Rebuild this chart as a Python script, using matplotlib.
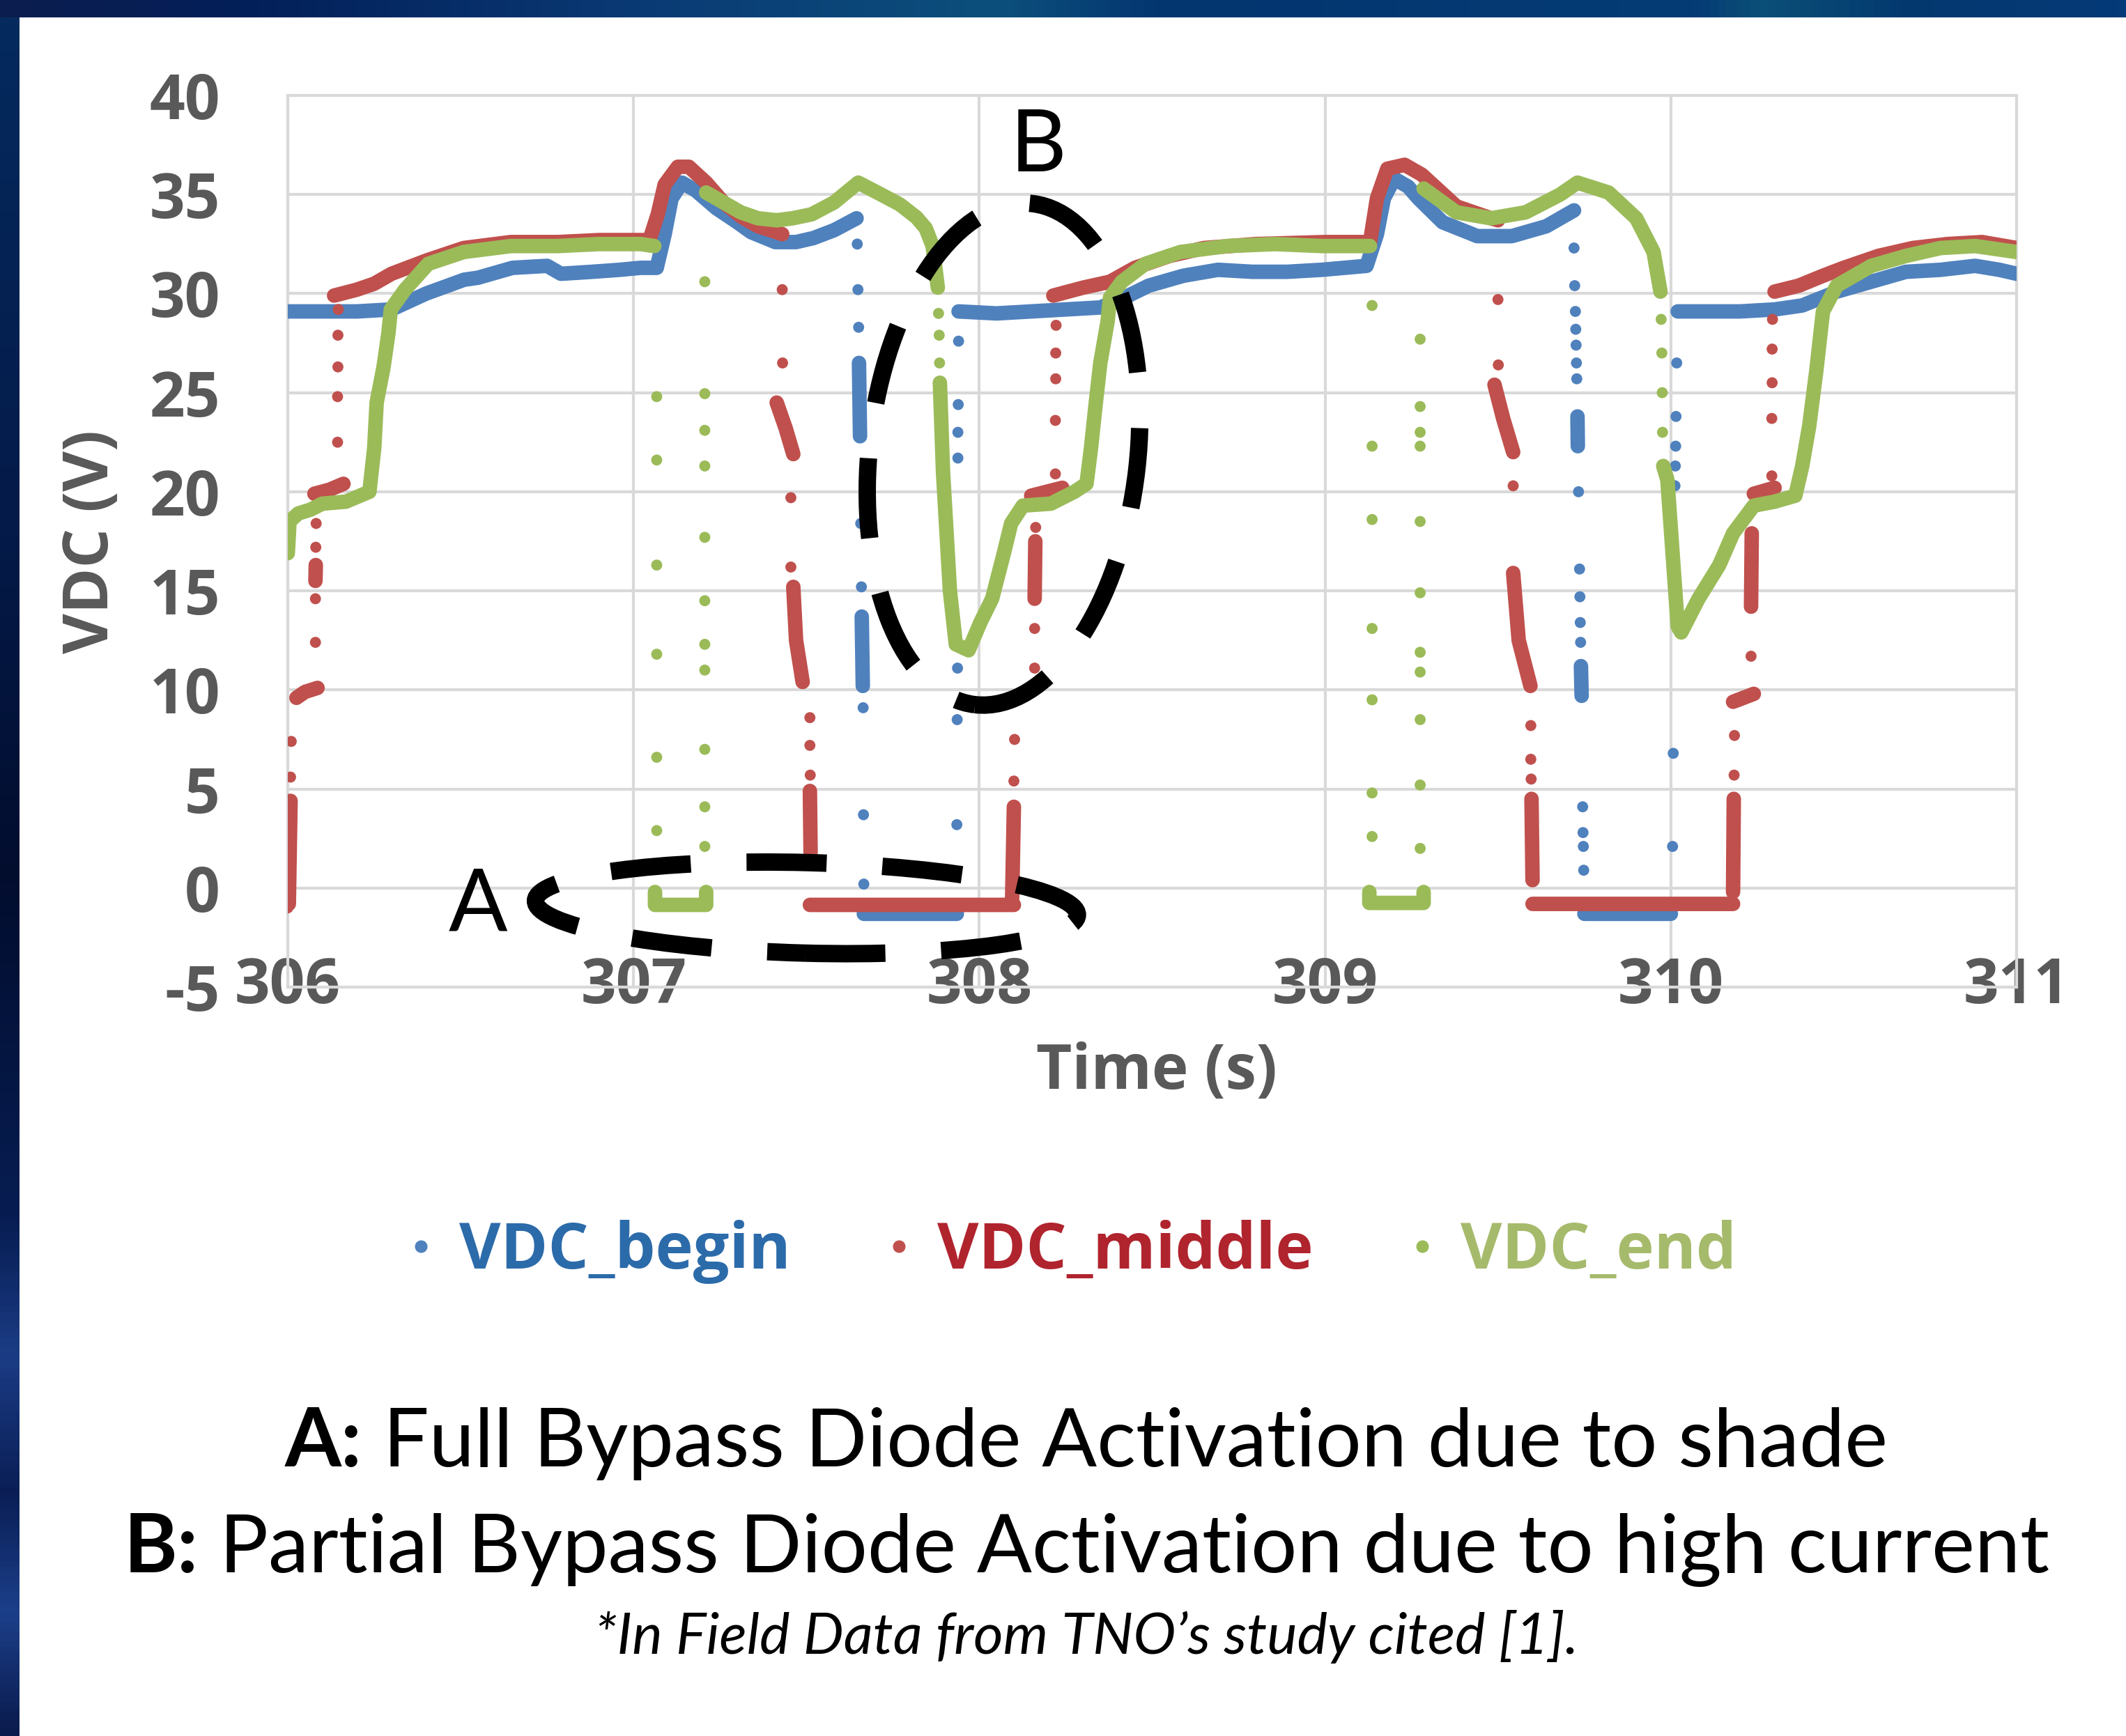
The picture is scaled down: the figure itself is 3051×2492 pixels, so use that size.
import numpy as np
import matplotlib.pyplot as plt
from matplotlib.colors import LinearSegmentedColormap
from matplotlib.lines import Line2D
from matplotlib.patches import Ellipse
from matplotlib.transforms import IdentityTransform

nan = np.nan

# ---- values (time in s, voltage in V) ----
# continuous runs of samples (nan = break between runs)
begin_t = [306.00, 306.10, 306.20, 306.30, 306.40, 306.51, 306.55, 306.65, 306.75, 306.79, 306.88, 306.96,
           307.02, 307.067, 307.09, 307.11, 307.14, 307.18, 307.24, 307.30, 307.34, 307.41, 307.47, 307.52,
           307.58, 307.645, nan,
           307.652, 307.655, nan, 307.660, 307.663, nan,
           307.666, 307.80, 307.935, nan,
           307.94, 308.05, 308.15, 308.25, 308.35, 308.42, 308.49, 308.59, 308.69, 308.79, 308.89, 308.99,
           309.12, 309.15, 309.17, 309.20, 309.24, 309.27, 309.34, 309.44, 309.54, 309.64, 309.72, nan,
           309.730, 309.731, nan, 309.740, 309.742, nan,
           309.75, 309.88, 310.00, nan,
           310.02, 310.10, 310.20, 310.30, 310.38, 310.48, 310.58, 310.68, 310.78, 310.88, 310.95, 311.0]
begin_v = [29.1, 29.1, 29.1, 29.2, 30.0, 30.7, 30.8, 31.3, 31.4, 31.0, 31.1, 31.2,
           31.3, 31.3, 33.0, 34.8, 35.6, 35.2, 34.3, 33.6, 33.1, 32.6, 32.6, 32.8,
           33.2, 33.8, nan,
           26.5, 22.8, nan, 13.7, 10.2, nan,
           -1.3, -1.3, -1.3, nan,
           29.1, 29.0, 29.1, 29.2, 29.3, 29.8, 30.4, 30.9, 31.2, 31.1, 31.1, 31.2,
           31.4, 33.0, 34.8, 35.8, 35.4, 34.8, 33.6, 32.9, 32.9, 33.4, 34.2, nan,
           23.8, 22.3, nan, 11.2, 9.7, nan,
           -1.3, -1.3, -1.3, nan,
           29.1, 29.1, 29.1, 29.2, 29.4, 30.1, 30.6, 31.1, 31.2, 31.4, 31.2, 31.0]
# isolated samples during the fast transitions
begin_dot_t = [307.647, 307.649, 307.651, 307.657, 307.659, 307.664, 307.665, 307.666,
               307.935, 307.936, 307.937, 307.938, 307.938, 307.939, 307.940,
               309.720, 309.722, 309.724, 309.725, 309.726, 309.727, 309.728, 309.733,
               309.736, 309.737, 309.738, 309.739, 309.745, 309.746, 309.747, 309.748,
               310.005, 310.007, 310.012, 310.013, 310.014, 310.015, 310.017]
begin_dot_v = [32.5, 30.2, 28.3, 18.4, 15.2, 9.1, 3.7, 0.2,
               3.2, 8.5, 11.1, 21.7, 23.0, 24.4, 27.6,
               32.3, 30.4, 29.1, 28.2, 27.4, 26.5, 25.7, 20.0,
               16.1, 14.7, 13.4, 12.4, 4.1, 2.8, 2.1, 0.9,
               2.1, 6.8, 20.3, 21.3, 22.3, 23.8, 26.5]

middle_t = [306.003, 306.008, nan, 306.025, 306.05, 306.086, nan, 306.080, 306.081, nan,
            306.077, 306.12, 306.161, nan,
            306.134, 306.20, 306.25, 306.30, 306.406, 306.509, 306.645, 306.781, 306.90, 307.02,
            307.046, 307.07, 307.09, 307.128, 307.16, 307.21, 307.26, 307.31, 307.36, 307.414, 307.43, nan,
            307.414, 307.44, 307.462, nan, 307.462, 307.47, 307.489, nan, 307.51, 307.512, nan,
            307.51, 307.80, 308.10, nan,
            308.095, 308.10, nan, 308.09, 308.14, nan, 308.16, 308.162, nan, 308.15, 308.24, nan,
            308.214, 308.30, 308.378, 308.45, 308.55, 308.65, 308.80, 309.00, 309.13, 309.15,
            309.18, 309.23, 309.28, 309.38, 309.48, 309.50, nan,
            309.49, 309.515, 309.544, nan, 309.544, 309.56, 309.594, nan, 309.597, 309.60, nan,
            309.60, 309.90, 310.18, nan,
            310.18, 310.182, nan, 310.18, 310.24, nan, 310.232, 310.234, nan, 310.24, 310.30, nan,
            310.30, 310.37, 310.44, 310.50, 310.60, 310.70, 310.80, 310.90, 311.0]
middle_v = [-0.8, 4.4, nan, 9.6, 9.9, 10.1, nan, 15.5, 16.3, nan,
            19.9, 20.1, 20.4, nan,
            29.9, 30.2, 30.5, 31.0, 31.7, 32.3, 32.6, 32.6, 32.7, 32.7,
            32.7, 34.0, 35.5, 36.4, 36.4, 35.6, 34.6, 33.9, 33.4, 33.1, 33.0, nan,
            24.5, 23.2, 21.9, nan, 15.2, 12.5, 10.4, nan, 4.9, 1.8, nan,
            -0.85, -0.85, -0.85, nan,
            -0.5, 4.1, nan, 9.5, 9.9, nan, 14.6, 17.5, nan, 19.8, 20.2, nan,
            29.9, 30.3, 30.6, 31.3, 31.9, 32.3, 32.5, 32.6, 32.6, 34.8,
            36.3, 36.5, 36.0, 34.4, 33.8, 33.7, nan,
            25.4, 23.7, 22.0, nan, 15.9, 12.5, 10.2, nan, 4.5, 0.4, nan,
            -0.8, -0.8, -0.8, nan,
            -0.2, 4.5, nan, 9.4, 9.8, nan, 14.2, 17.9, nan, 19.9, 20.2, nan,
            30.1, 30.4, 30.9, 31.3, 31.9, 32.3, 32.5, 32.6, 32.3]
middle_dot_t = [306.000, 306.008, 306.010, 306.080, 306.080, 306.081, 306.082,
                306.144, 306.144, 306.145, 306.145, 306.146,
                307.430, 307.431, 307.455, 307.455, 307.510, 307.510, 307.511,
                308.100, 308.102, 308.160, 308.160, 308.163,
                308.220, 308.220, 308.221, 308.221, 308.222,
                309.500, 309.501, 309.544, 309.595, 309.595, 309.596,
                310.183, 310.184, 310.232, 310.235,
                310.292, 310.292, 310.293, 310.293, 310.294]
middle_dot_v = [-1.0, 5.6, 7.4, 12.4, 14.6, 17.2, 18.4,
                22.5, 24.8, 26.3, 27.9, 29.2,
                30.2, 26.5, 19.7, 16.2, 8.6, 7.2, 5.7,
                5.4, 7.5, 11.1, 13.1, 18.2,
                20.9, 23.6, 25.7, 27.0, 28.4,
                29.7, 26.4, 20.3, 8.2, 6.5, 5.5,
                5.7, 7.7, 11.7, 19.3,
                20.8, 23.7, 25.5, 27.2, 28.7]

end_t = [306.00, 306.005, 306.03, 306.066, 306.10, 306.168, 306.236, 306.25, 306.257, 306.277,
         306.291, 306.298, 306.339, 306.406, 306.509, 306.645, 306.781, 306.90, 307.02, 307.06, nan,
         307.062, 307.062, 307.21, 307.21, nan,
         307.21, 307.26, 307.31, 307.36, 307.414, 307.46, 307.515, 307.58, 307.65, 307.716,
         307.77, 307.818, 307.845, 307.865, 307.88, nan,
         307.886, 307.895, 307.905, 307.915, 307.932, 307.969, 308.003, 308.037, 308.071, 308.092,
         308.126, 308.207, 308.275, 308.31, 308.323, 308.337, 308.35, 308.371, 308.378, 308.412,
         308.48, 308.582, 308.718, 308.855, 308.991, 309.13, nan,
         309.128, 309.128, 309.285, 309.285, nan,
         309.285, 309.38, 309.48, 309.58, 309.68, 309.73, 309.82, 309.90, 309.95, 309.97, nan,
         309.978, 309.99, 310.02, 310.03, 310.08, 310.14, 310.18, 310.24, 310.30, 310.36,
         310.38, 310.40, 310.42, 310.44, 310.48, 310.58, 310.68, 310.78, 310.88, 311.0]
end_v = [16.9, 18.5, 18.9, 19.1, 19.4, 19.5, 20.0, 22.2, 24.5, 26.3,
         28.0, 29.2, 30.2, 31.5, 32.1, 32.4, 32.4, 32.5, 32.5, 32.4, nan,
         -0.2, -0.85, -0.85, -0.2, nan,
         35.1, 34.6, 34.1, 33.8, 33.7, 33.8, 34.0, 34.6, 35.6, 35.0,
         34.5, 33.85, 33.3, 32.4, 30.3, nan,
         25.5, 21.0, 18.0, 15.0, 12.3, 12.0, 13.4, 14.6, 16.9, 18.4,
         19.3, 19.4, 20.0, 20.4, 22.2, 24.5, 26.5, 28.6, 29.8, 30.6,
         31.5, 32.1, 32.4, 32.5, 32.4, 32.4, nan,
         -0.2, -0.75, -0.75, -0.2, nan,
         35.3, 34.1, 33.8, 34.1, 35.0, 35.6, 35.1, 33.8, 32.1, 30.1, nan,
         21.3, 20.6, 13.2, 12.9, 14.6, 16.3, 17.9, 19.3, 19.5, 19.8,
         21.3, 23.3, 26.0, 29.1, 30.4, 31.4, 31.9, 32.3, 32.4, 32.1]
end_dot_t = [307.067] * 6 + [307.206] * 11 + [307.882, 307.884, 307.885] + \
            [309.136] * 7 + [309.275] * 11 + [309.972, 309.974, 309.975, 309.976]
end_dot_v = [24.8, 21.6, 16.3, 11.8, 6.6, 2.9,
             30.6, 24.95, 23.1, 21.3, 17.7, 14.5, 12.3, 11.0, 7.0, 4.1, 2.1,
             29.0, 27.9, 26.5,
             29.4, 22.3, 18.6, 13.1, 9.5, 4.8, 2.6,
             27.7, 24.3, 23.0, 22.3, 18.5, 14.9, 11.9, 10.9, 8.5, 5.2, 2.0,
             28.7, 27.0, 25.0, 23.0]

series_names = ['VDC_begin', 'VDC_middle', 'VDC_end']
series_colors = ['#4F81BD', '#C0504D', '#9BBB59']
legend_text_colors = ['#2C6BAA', '#B0242E', '#A6BA6C']

x_ticks = [306, 307, 308, 309, 310, 311]
y_ticks = [-5, 0, 5, 10, 15, 20, 25, 30, 35, 40]

W, H, DPI = 3051, 2492, 100
GREY = '#595959'
plt.rcParams['font.family'] = ['Open Sans', 'DejaVu Sans']
plt.rcParams['axes.unicode_minus'] = False

fig = plt.figure(figsize=(W / DPI, H / DPI), dpi=DPI, facecolor='white')

# slide frame: dark blue band on top and strip on the left
band = fig.add_axes([0, 1 - 25 / H, 1, 25 / H])
band.imshow(np.linspace(0, 1, 600)[None, :], aspect='auto',
            cmap=LinearSegmentedColormap.from_list('band', [
                (0.0, '#0b1d4e'), (0.12, '#03205a'), (0.3, '#0a3a74'), (0.47, '#0c4f7c'),
                (0.55, '#03356f'), (0.8, '#053c75'), (0.83, '#0b5078'), (0.9, '#03386f'),
                (1.0, '#053a78')]))
band.axis('off')
strip = fig.add_axes([0, 0, 28 / W, 1 - 25 / H])
strip.imshow(np.linspace(0, 1, 600)[:, None], aspect='auto',
             cmap=LinearSegmentedColormap.from_list('strip', [
                 (0.0, '#052a5e'), (0.3, '#041a48'), (0.5, '#020d2e'), (0.7, '#071d52'),
                 (0.78, '#1b3c85'), (0.86, '#0a1e55'), (0.93, '#1c3f8a'), (1.0, '#0a1c4e')]))
strip.axis('off')

# chart
ax = fig.add_axes([413 / W, 1 - 1417 / H, (2894 - 413) / W, (1417 - 137) / H])
z = 3
for t, v, dt, dv, col in [(begin_t, begin_v, begin_dot_t, begin_dot_v, series_colors[0]),
                          (middle_t, middle_v, middle_dot_t, middle_dot_v, series_colors[1]),
                          (end_t, end_v, end_dot_t, end_dot_v, series_colors[2])]:
    ax.plot(t, v, color=col, lw=15, solid_capstyle='round', solid_joinstyle='round', zorder=z)
    ax.scatter(dt, dv, s=130, color=col, edgecolors='none', zorder=z)
    z += 1

ax.set_xlim(306, 311)
ax.set_ylim(-5, 40)
ax.set_xticks(x_ticks)
ax.set_yticks(y_ticks)
ax.grid(True, color='#D9D9D9', lw=3)
ax.set_axisbelow(True)
for s in ax.spines.values():
    s.set_color('#D9D9D9')
    s.set_linewidth(3)
ax.tick_params(length=0, labelsize=64, labelcolor=GREY)
ax.tick_params(axis='y', pad=70)
ax.tick_params(axis='x', pad=0)
for lab in ax.get_xticklabels() + ax.get_yticklabels():
    lab.set_fontweight('bold')
for lab in ax.get_xticklabels():
    lab.set_va('center')

ax.set_xlabel('Time (s)', fontsize=64, fontweight='bold', color=GREY)
ax.xaxis.set_label_coords((1660 - 413) / (2894 - 413), -(1540 - 1417) / (1417 - 137))
ax.xaxis.label.set_va('center')
ax.set_ylabel('VDC (V)', fontsize=64, fontweight='bold', color=GREY)
ax.yaxis.set_label_coords((132 - 413) / (2894 - 413), (1417 - 778) / (1417 - 137))
ax.yaxis.label.set_va('center')

# annotation ellipses A and B (sizes in output pixels)
dash = (0, (4.6, 3.2))
for (cx, cy), w_px, h_px, ang in [((307.50, -1.0), 778, 130, -1.5), ((308.07, 21.9), 385, 724, -6.5)]:
    px, py = ax.transData.transform((cx, cy))
    ax.add_patch(Ellipse((px, py), w_px, h_px, angle=ang, transform=IdentityTransform(),
                         fill=False, ec='black', lw=18, ls=dash, capstyle='butt',
                         clip_on=False, zorder=10))
ax.text(306.55, -0.9, 'A', fontsize=90, family='Lato', ha='center', va='center', zorder=11)
ax.text(308.17, 37.4, 'B', fontsize=90, family='Lato', ha='center', va='center', zorder=11)

# legend under the chart
handles = [Line2D([], [], marker='o', ls='none', markersize=12, color=c) for c in series_colors]
leg = fig.legend(handles, series_names, loc='center', bbox_to_anchor=(1541 / W, 1 - 1797 / H),
                 ncol=3, frameon=False, handlelength=0.3, handletextpad=0.45, columnspacing=1.55,
                 prop={'size': 66, 'weight': 'bold'})
for txt, c in zip(leg.get_texts(), legend_text_colors):
    txt.set_color(c)

# caption lines, fitted to the width they take on the slide
renderer = fig.canvas.get_renderer()


def centred_line(parts, y_base_px, width_px, xc_px=1559):
    texts = [fig.text(0, 1 - y_base_px / H, s, fontsize=100, va='baseline', ha='left',
                      family='Lato', **style) for s, style in parts]
    total = sum(t.get_window_extent(renderer).width for t in texts)
    for t in texts:
        t.set_fontsize(100 * width_px / total)
    widths = [t.get_window_extent(renderer).width for t in texts]
    x = xc_px - sum(widths) / 2
    for t, w in zip(texts, widths):
        t.set_x(x / W)
        x += w


centred_line([('A:', {'weight': 'bold'}), (' Full Bypass Diode Activation due to shade', {})], 2105, 2300)
centred_line([('B:', {'weight': 'bold'}), (' Partial Bypass Diode Activation due to high current', {})],
             2257, 2763)
centred_line([('*In Field Data from TNO\u2019s study cited [1].', {'style': 'italic'})], 2374, 1411)

fig.savefig('out.png', dpi=DPI)
